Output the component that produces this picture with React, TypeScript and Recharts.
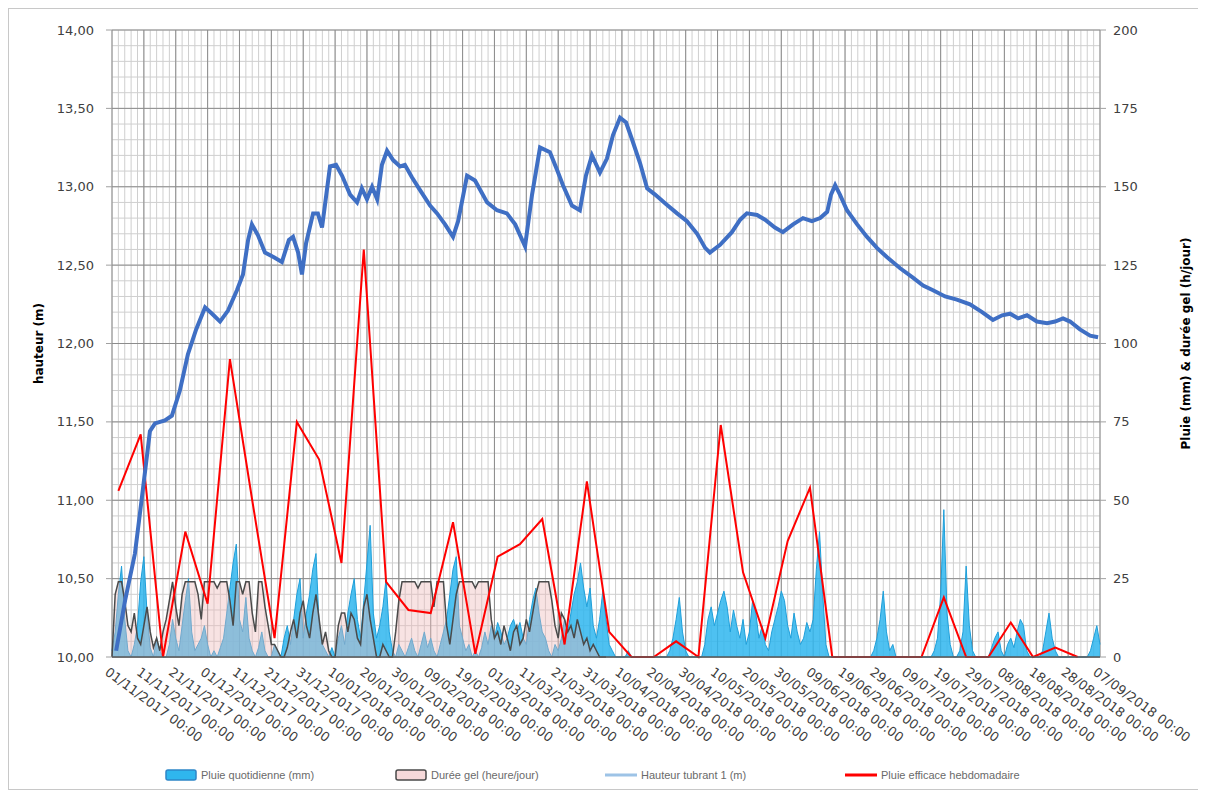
import { ComposedChart, Area, Line, XAxis, YAxis, CartesianGrid, Legend } from 'recharts';

const FONT = '"DejaVu Sans", "Liberation Sans", sans-serif';

// Date axis: one tick every 10 days from 01/11/2017 (day 0)
const datesAxe = [
  '01/11/2017 00:00', '11/11/2017 00:00', '21/11/2017 00:00', '01/12/2017 00:00',
  '11/12/2017 00:00', '21/12/2017 00:00', '31/12/2017 00:00', '10/01/2018 00:00',
  '20/01/2018 00:00', '30/01/2018 00:00', '09/02/2018 00:00', '19/02/2018 00:00',
  '01/03/2018 00:00', '11/03/2018 00:00', '21/03/2018 00:00', '31/03/2018 00:00',
  '10/04/2018 00:00', '20/04/2018 00:00', '30/04/2018 00:00', '10/05/2018 00:00',
  '20/05/2018 00:00', '30/05/2018 00:00', '09/06/2018 00:00', '19/06/2018 00:00',
  '29/06/2018 00:00', '09/07/2018 00:00', '19/07/2018 00:00', '29/07/2018 00:00',
  '08/08/2018 00:00', '18/08/2018 00:00', '28/08/2018 00:00', '07/09/2018 00:00',
];

const JOURS = 310;
const hauteurDomaine = [10, 14];
const hauteurTicks = [10, 10.5, 11, 11.5, 12, 12.5, 13, 13.5, 14];
const pluieTicks = [0, 25, 50, 75, 100, 125, 150, 175, 200];

// Daily rain (mm), day 0 = 01/11/2017
const pluieQuotidienne = [
  2, 8, 20, 29, 12, 2, 0, 4, 10, 24,
  32, 14, 3, 0, 6, 2, 0, 0, 4, 12,
  6, 2, 10, 18, 25, 8, 2, 4, 6, 10,
  4, 0, 2, 0, 3, 6, 14, 22, 30, 36,
  12, 8, 19, 6, 2, 0, 3, 8, 2, 0,
  0, 4, 2, 0, 6, 10, 4, 12, 20, 25,
  6, 14, 20, 28, 33, 10, 4, 2, 0, 3,
  0, 6, 10, 4, 14, 20, 25, 12, 6, 18,
  30, 42, 14, 6, 10, 16, 25, 8, 2, 0,
  4, 2, 0, 3, 6, 2, 0, 4, 8, 3,
  6, 2, 0, 4, 8, 12, 20, 28, 32, 10,
  6, 2, 4, 0, 2, 0, 3, 8, 4, 10,
  6, 11, 8, 4, 6, 10, 12, 8, 11, 6,
  4, 12, 18, 22, 14, 8, 6, 2, 0, 4,
  2, 6, 12, 8, 14, 20, 24, 30, 22, 16,
  22, 10, 6, 12, 21, 12, 4, 2, 0, 0,
  0, 0, 2, 0, 0, 0, 0, 0, 0, 0,
  0, 0, 0, 0, 0, 2, 6, 12, 19, 8,
  2, 0, 0, 0, 0, 0, 4, 12, 16, 10,
  14, 18, 21, 16, 8, 15, 10, 6, 12, 4,
  8, 18, 14, 6, 10, 4, 2, 8, 12, 16,
  21, 18, 10, 6, 14, 8, 4, 6, 11, 8,
  12, 28, 40, 20, 4, 0, 0, 0, 0, 0,
  0, 0, 0, 0, 0, 0, 0, 0, 0, 2,
  6, 12, 21, 8, 2, 4, 0, 0, 0, 0,
  0, 0, 0, 0, 0, 0, 0, 0, 2, 6,
  20, 47, 14, 4, 0, 0, 2, 8, 29, 10,
  2, 0, 0, 0, 0, 0, 3, 6, 8, 2,
  0, 4, 6, 3, 8, 12, 10, 2, 0, 0,
  0, 0, 2, 8, 14, 6, 2, 0, 0, 0,
  0, 0, 0, 0, 0, 0, 0, 2, 6, 10,
  4,
];

// Frost duration (hours per day), winter only
const dureeGel = [
  0, 20, 24, 24, 18, 10, 8, 14, 6, 4,
  10, 16, 8, 3, 6, 2, 8, 12, 18, 24,
  16, 10, 20, 24, 24, 24, 24, 20, 12, 24,
  24, 24, 24, 22, 24, 24, 24, 18, 10, 24,
  24, 20, 24, 24, 14, 8, 24, 24, 16, 10,
  4, 4, 2, 0, 0, 3, 8, 12, 6, 14,
  18, 10, 6, 14, 20, 12, 4, 8, 2, 0,
  0, 10, 14, 14, 8, 14, 12, 6, 4, 16,
  20, 12, 6, 0, 0, 4, 2, 0, 0, 8,
  18, 24, 24, 24, 24, 24, 22, 24, 24, 24,
  24, 16, 24, 24, 24, 10, 4, 12, 20, 24,
  24, 24, 24, 24, 22, 24, 24, 24, 24, 12,
  6, 8, 4, 10, 6, 2, 8, 10, 4, 6,
  12, 8, 14, 20, 24, 24, 24, 24, 18, 10,
  6, 14, 12, 8, 10, 6, 12, 8, 4, 6,
  2, 4, 2, 0, 0, 0,
];

// Water level readings: [day, height in m]
const hauteurReleves: [number, number][] = [
  [1.3, 10.04], [4.1, 10.36], [7.2, 10.66], [9.7, 11.07], [11.9, 11.44], [13.5, 11.49],
  [16.6, 11.51], [18.8, 11.54], [21.3, 11.7], [23.8, 11.93], [26.4, 12.09], [29.2, 12.23],
  [31.4, 12.19], [33.9, 12.14], [36.4, 12.21], [39.2, 12.34], [41.1, 12.44], [42.7, 12.66],
  [43.9, 12.76], [45.8, 12.69], [48, 12.58], [50.8, 12.55], [53.3, 12.52], [55.5, 12.66],
  [56.8, 12.68], [58.4, 12.58], [59.6, 12.44], [60.9, 12.64], [63.1, 12.83], [64.6, 12.83],
  [65.9, 12.74], [68.4, 13.13], [70.3, 13.14], [72.2, 13.07], [74.7, 12.95], [76.9, 12.9],
  [78.4, 12.99], [80, 12.92], [81.6, 13.0], [83.2, 12.92], [84.7, 13.14], [86.3, 13.23],
  [88.2, 13.17], [90.4, 13.13], [91.9, 13.14], [94.1, 13.06], [96.6, 12.98], [99.8, 12.88],
  [102, 12.83], [104.5, 12.76], [107, 12.68], [108.6, 12.78], [111.4, 13.07], [113.9, 13.04],
  [117.7, 12.9], [120.8, 12.85], [123.9, 12.83], [126.5, 12.76], [129.6, 12.62], [131.8, 12.95],
  [134.3, 13.25], [137.4, 13.22], [139.6, 13.11], [141.5, 13.01], [144.3, 12.88], [146.8, 12.85],
  [148.7, 13.07], [150.6, 13.2], [153.1, 13.09], [155.3, 13.18], [157.2, 13.33], [159.4, 13.44],
  [161.3, 13.41], [163.2, 13.3], [165.7, 13.15], [167.9, 12.99], [170.4, 12.95], [173.8, 12.89],
  [177.3, 12.83], [180.4, 12.78], [183.6, 12.7], [186.1, 12.61], [187.6, 12.58], [190.8, 12.63],
  [194.5, 12.71], [197.1, 12.79], [199.2, 12.83], [202.4, 12.82], [204.9, 12.79], [208, 12.74],
  [210.5, 12.71], [213.7, 12.76], [216.8, 12.8], [219.6, 12.78], [222.2, 12.8], [224.4, 12.84],
  [225.6, 12.95], [226.9, 13.01], [228.4, 12.95], [230.6, 12.85], [233.8, 12.76], [236.9, 12.68],
  [240, 12.61], [243.2, 12.55], [247.3, 12.48], [251.3, 12.42], [254.5, 12.37], [257.6, 12.34],
  [261.4, 12.3], [265.1, 12.28], [269.2, 12.25], [273, 12.2], [276.4, 12.15], [279.3, 12.18],
  [281.8, 12.19], [284.3, 12.16], [287.1, 12.18], [290.2, 12.14], [293.4, 12.13], [295.9, 12.14],
  [298.4, 12.16], [300.6, 12.14], [303.7, 12.09], [306.9, 12.05], [309.4, 12.04],
];

// Weekly effective rain (mm)
const efficaceJours = [
  2, 9, 16, 23, 30, 37, 44, 51, 58, 65, 72, 79, 86, 93, 100, 107, 114, 121, 128, 135, 142, 149,
  156, 163, 170, 177, 184, 191, 198, 205, 212, 219, 226, 233, 240, 247, 254, 261, 268, 275, 282,
  289, 296, 303,
];
const pluieEfficace = [
  53, 71, 0, 40, 17, 95, 50, 6, 75, 63, 30, 130, 24, 15, 14, 43, 1, 32, 36, 44, 4, 56,
  8, 0, 0, 5, 0, 74, 27, 6, 37, 54, 0, 0, 0, 0, 0, 19, 0, 0, 11,
  0, 3, 0,
];

const journalier = pluieQuotidienne.map((pluie, jour) => ({
  jour,
  pluie,
  gel: jour < dureeGel.length ? dureeGel[jour] : null,
}));
const hauteurData = hauteurReleves.map(([jour, hauteur]) => ({ jour, hauteur }));
const efficaceData = efficaceJours.map((jour, i) => ({ jour, efficace: pluieEfficace[i] }));

const dateTicks = datesAxe.map((_, i) => i * 10);
// minor grid: every 2 days, every 0.1 m
const grilleJours = Array.from({ length: 156 }, (_, i) => i * 2);
const grilleHauteurs = Array.from({ length: 41 }, (_, i) => 10 + i * 0.1);

const legendItems = [
  { name: 'Pluie quotidienne (mm)', kind: 'area', fill: '#2FB6EE', stroke: '#2E86C8', left: 156 },
  { name: 'Durée gel (heure/jour)', kind: 'area', fill: '#F6D9DA', stroke: '#4A4A4A', left: 386 },
  { name: 'Hauteur tubrant 1 (m)', kind: 'line', stroke: '#9DC3E6', left: 596 },
  { name: 'Pluie efficace hebdomadaire', kind: 'line', stroke: '#FF0000', left: 836 },
];

const fmtHauteur = (v: number) => v.toFixed(2).replace('.', ',');

// minor grid lines placed on the plot area with the same linear mapping as the axes
const minorVertical = ({ offset }: any) =>
  grilleJours.map((d) => offset.left + (offset.width * d) / JOURS);
const minorHorizontal = ({ offset }: any) =>
  grilleHauteurs.map((v) => offset.top + (offset.height * (hauteurDomaine[1] - v)) / (hauteurDomaine[1] - hauteurDomaine[0]));

const DateTick = ({ x, y, payload }: any) => (
  <g transform={`translate(${x},${y})`}>
    <text x={-8} y={17} textAnchor="start" transform="rotate(36, -8, 17)"
      fontSize={13} fontFamily={FONT} fill="#404040">
      {datesAxe[Math.round(payload.value / 10)]}
    </text>
  </g>
);

const AxisTitle = ({ viewBox, value, dx }: any) => {
  const x = viewBox.x + dx;
  const y = viewBox.y + viewBox.height / 2;
  return (
    <text x={x} y={y} transform={`rotate(-90, ${x}, ${y})`} textAnchor="middle"
      fontSize={12} fontWeight="bold" fontFamily={FONT} fill="#000">
      {value}
    </text>
  );
};

const LegendContent = () => (
  <div style={{ position: 'relative', width: 1190, height: 28 }}>
    {legendItems.map((item) => (
      <div key={item.name} style={{ position: 'absolute', left: item.left, top: 8, display: 'flex', alignItems: 'center' }}>
        <svg width={32} height={12}>
          {item.kind === 'area' ? (
            <rect x={1} y={1} width={30} height={10} rx={2} fill={item.fill} stroke={item.stroke} strokeWidth={1.5} />
          ) : (
            <line x1={0} y1={6} x2={32} y2={6} stroke={item.stroke} strokeWidth={3} />
          )}
        </svg>
        <span style={{ marginLeft: 4, fontSize: 11, fontFamily: '"Liberation Sans", sans-serif', color: '#6a6a6a' }}>
          {item.name}
        </span>
      </div>
    ))}
  </div>
);

export default function App() {
  return (
    <div style={{ width: 1190, height: 780, border: '1px solid #c8c8c8', background: '#fff' }}>
      <ComposedChart width={1190} height={780} data={journalier}
        margin={{ top: 21, right: 0, left: 20, bottom: 0 }}>
        <CartesianGrid yAxisId="left" stroke="#cfcfcf" strokeWidth={1}
          verticalCoordinatesGenerator={minorVertical}
          horizontalCoordinatesGenerator={minorHorizontal} />
        <CartesianGrid yAxisId="left" stroke="#8c8c8c" strokeWidth={1} />

        <XAxis dataKey="jour" type="number" domain={[0, JOURS]} ticks={dateTicks} interval={0}
          height={104} tickSize={0} tickMargin={0} tick={<DateTick />}
          axisLine={{ stroke: '#595959', strokeWidth: 1.5 }} tickLine={false} />
        <YAxis yAxisId="left" domain={hauteurDomaine} ticks={hauteurTicks} tickFormatter={fmtHauteur}
          width={83} tickSize={6} tickMargin={12} axisLine={false}
          tickLine={{ stroke: '#a0a0a0' }}
          tick={{ fontSize: 13, fontFamily: FONT, fill: '#404040' }}
          label={<AxisTitle value="hauteur (m)" dx={14} />} />
        <YAxis yAxisId="right" orientation="right" domain={[0, 200]} ticks={pluieTicks}
          width={99} tickSize={6} tickMargin={7} axisLine={false}
          tickLine={{ stroke: '#a0a0a0' }}
          tick={{ fontSize: 13, fontFamily: FONT, fill: '#404040' }}
          label={<AxisTitle value="Pluie (mm) & durée gel (h/jour)" dx={90} />} />

        <Area yAxisId="right" type="linear" dataKey="pluie" name="Pluie quotidienne (mm)"
          fill="#2FB6EE" fillOpacity={0.85} stroke="#1E9FDA" strokeWidth={1} isAnimationActive={false} />
        <Area yAxisId="right" type="linear" dataKey="gel" name="Durée gel (heure/jour)"
          fill="#EDB8BA" fillOpacity={0.4} stroke="#4A4A4A" strokeWidth={1.5} isAnimationActive={false} />
        <Line yAxisId="right" type="linear" data={efficaceData} dataKey="efficace"
          name="Pluie efficace hebdomadaire" stroke="#FF0000" strokeWidth={2} dot={false}
          isAnimationActive={false} />
        <Line yAxisId="left" type="linear" data={hauteurData} dataKey="hauteur"
          name="Hauteur tubrant 1 (m)" stroke="#3F6FC4" strokeWidth={4} dot={false}
          isAnimationActive={false} />

        <Legend verticalAlign="bottom" wrapperStyle={{ left: 0, width: 1190 }} content={<LegendContent />} />
      </ComposedChart>
    </div>
  );
}
